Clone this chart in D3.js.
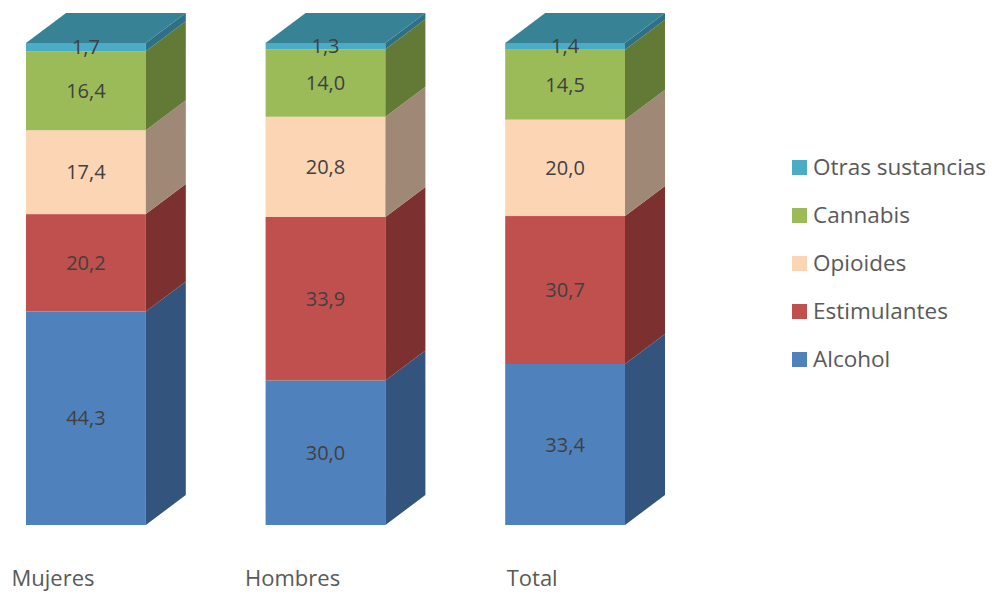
<!DOCTYPE html>
<html><head><meta charset="utf-8">
<script src="https://cdn.jsdelivr.net/npm/d3@7"></script>
<style>body{margin:0;background:#fff;} svg{display:block;}</style>
</head><body>
<svg id="chart" width="992" height="594"></svg>
<script>
const categories = ["Mujeres", "Hombres", "Total"];
const seriesNames = ["Alcohol", "Estimulantes", "Opioides", "Cannabis", "Otras sustancias"];
const alcohol = [44.3, 30.0, 33.4];
const estimulantes = [20.2, 33.9, 30.7];
const opioides = [17.4, 20.8, 20.0];
const cannabis = [16.4, 14.0, 14.5];
const otras = [1.7, 1.3, 1.4];
const seriesValues = [alcohol, estimulantes, opioides, cannabis, otras];
const frontColors = ["#4F81BD", "#C0504D", "#FCD5B5", "#9BBB59", "#4BACC6"];
const sideColors = ["#32547D", "#7C302F", "#A08877", "#627A36", "#2E7184"];
const topColor = "#378295";
const FONT = "'Open Sans', Lato, sans-serif";

const svg = d3.select("#chart");
const rows = categories.map((c, i) => {
  const r = {cat: c};
  seriesNames.forEach((s, j) => r[s] = seriesValues[j][i]);
  return r;
});
const stack = d3.stack().keys(seriesNames)(rows);

const x = d3.scaleBand().domain(categories).range([26, 625]).paddingInner(0.5).paddingOuter(0);
const y = d3.scaleLinear().domain([0, 100]).range([525, 43]);
const dx = 40, dy = -30;
const fmt = v => d3.format(".1f")(v).replace(".", ",");

stack.forEach((layer, j) => {
  const g = svg.append("g");
  layer.forEach((d, i) => {
    const x0 = x(categories[i]), x1 = x0 + x.bandwidth();
    const yt = y(d[1]), yb = y(d[0]);
    g.append("rect").attr("x", x0).attr("y", yt).attr("width", x1 - x0).attr("height", yb - yt)
      .attr("fill", frontColors[j]);
    g.append("path").attr("d", `M${x1},${yb}L${x1},${yt}L${x1+dx},${yt+dy}L${x1+dx},${yb+dy}Z`)
      .attr("fill", sideColors[j]);
    if (j === stack.length - 1) {
      g.append("path").attr("d", `M${x0},${yt}L${x1},${yt}L${x1+dx},${yt+dy}L${x0+dx},${yt+dy}Z`)
        .attr("fill", topColor);
    }
  });
});

stack.forEach((layer, j) => {
  layer.forEach((d, i) => {
    svg.append("text")
      .attr("x", x(categories[i]) + x.bandwidth() / 2)
      .attr("y", (y(d[0]) + y(d[1])) / 2)
      .attr("dy", "0.35em")
      .attr("text-anchor", "middle")
      .attr("font-family", FONT)
      .attr("font-size", 20)
      .attr("fill", "#404040")
      .text(fmt(d.data[seriesNames[j]]));
  });
});

categories.forEach(c => {
  svg.append("text")
    .attr("x", x(c) + 27)
    .attr("y", 586)
    .attr("text-anchor", "middle")
    .attr("font-family", FONT)
    .attr("font-size", 22)
    .attr("fill", "#595959")
    .text(c);
});

const legendOrder = seriesNames.map((s, j) => ({s, j})).reverse();
const lg = svg.append("g");
legendOrder.forEach((d, k) => {
  const cy = 167 + k * 48;
  lg.append("rect").attr("x", 792).attr("y", cy - 7).attr("width", 15).attr("height", 15).attr("fill", frontColors[d.j]);
  lg.append("text").attr("x", 813).attr("y", cy).attr("dy", "0.35em")
    .attr("font-family", FONT).attr("font-size", 22.5)
    .attr("fill", "#595959").text(d.s);
});
</script>
</body></html>
